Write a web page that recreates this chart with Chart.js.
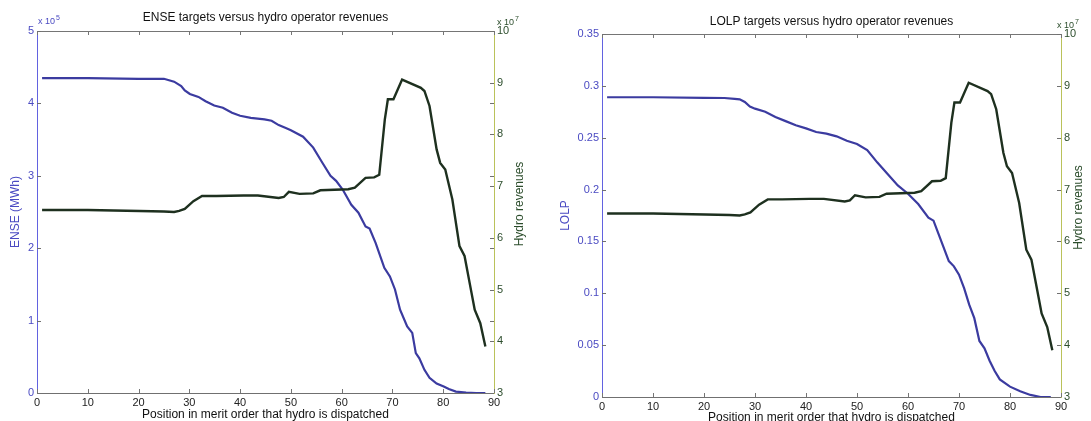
<!DOCTYPE html>
<html>
<head>
<meta charset="utf-8">
<script src="https://cdn.jsdelivr.net/npm/chart.js@4.4.1/dist/chart.umd.min.js"></script>
<style>
  body { margin: 0; background: #fff; width: 1091px; height: 421px; position: relative; overflow: hidden; }
  canvas { position: absolute; top: 0; }
</style>
</head>
<body>
<canvas id="enseChart" width="546" height="421" style="left:0px"></canvas>
<canvas id="lolpChart" width="545" height="421" style="left:546px"></canvas>
<script>
// ENSE (MWh) against position in merit order
const ensePos = [1, 10, 20, 25, 26, 27, 28.4, 29.1, 30.1, 31.8, 33.2, 34.9, 36.6, 38.4, 40, 42.1, 44.8, 46.2, 47.6, 49,
                 50, 52.4, 54.4, 56.2, 57.8, 58.9, 60.2, 61.9, 63.3, 64.7, 65.5, 66.7, 68.4, 69.5, 70.5, 71.5, 72.9, 73.9, 74.6, 75.3,
                 76.3, 77.3, 78.7, 80.1, 81.1, 82.5, 84.5, 86.5, 88.3];
const enseVals = [4.35e5, 4.35e5, 4.34e5, 4.34e5, 4.32e5, 4.30e5, 4.24e5, 4.18e5, 4.13e5, 4.09e5, 4.03e5, 3.97e5, 3.94e5, 3.87e5, 3.83e5, 3.80e5, 3.78e5, 3.76e5, 3.70e5, 3.66e5,
                  3.63e5, 3.54e5, 3.39e5, 3.18e5, 3.00e5, 2.93e5, 2.81e5, 2.60e5, 2.49e5, 2.30e5, 2.27e5, 2.07e5, 1.73e5, 1.61e5, 1.43e5, 1.15e5, 0.92e5, 0.83e5, 0.55e5, 0.48e5,
                  0.32e5, 0.21e5, 0.13e5, 0.09e5, 0.055e5, 0.02e5, 0.005e5, 0, 0];

// LOLP against position in merit order
const lolpPos = [1, 10, 20, 24, 26, 27, 28, 29, 30, 32, 34, 36, 38, 40, 42, 44, 46, 48, 50, 52,
                 54, 56, 58, 60, 62, 64, 65, 66, 68, 69, 70, 71, 72, 73, 74, 75, 76, 77, 78, 80,
                 82, 84, 86, 88];
const lolpVals = [0.289, 0.289, 0.2885, 0.2883, 0.2875, 0.287, 0.2845, 0.280, 0.278, 0.275, 0.270, 0.266, 0.262, 0.259, 0.2555, 0.254, 0.2513, 0.247, 0.244, 0.238,
                  0.226, 0.215, 0.204, 0.196, 0.186, 0.173, 0.170, 0.157, 0.131, 0.126, 0.118, 0.105, 0.089, 0.076, 0.054, 0.047, 0.035, 0.025, 0.017, 0.010,
                  0.0055, 0.002, 0, 0];

// hydro operator revenues, same for both targets
const revPos = [1, 10, 20.2, 25, 27, 28, 29.1, 30.8, 32.5, 35.3, 40.7, 43.5, 47.6, 48.6, 49.6, 51.7, 54.4, 55.8, 61.3, 62.6,
                64.7, 66.4, 67.4, 68.5, 69.1, 70.2, 71.9, 75.6, 76.3, 77.3, 78.7, 79.4, 80.4, 81.8, 83.2, 84.2, 85.2, 86.2, 87.3, 88.3];
const revVals = [6.54e7, 6.54e7, 6.52e7, 6.51e7, 6.50e7, 6.52e7, 6.56e7, 6.71e7, 6.81e7, 6.81e7, 6.82e7, 6.82e7, 6.77e7, 6.79e7, 6.89e7, 6.85e7, 6.86e7, 6.92e7, 6.94e7, 6.97e7,
                 7.16e7, 7.17e7, 7.22e7, 8.29e7, 8.68e7, 8.68e7, 9.06e7, 8.90e7, 8.84e7, 8.55e7, 7.71e7, 7.45e7, 7.32e7, 6.74e7, 5.84e7, 5.65e7, 5.13e7, 4.61e7, 4.35e7, 3.90e7];

const FONT = "'Liberation Sans', Arial, Helvetica, sans-serif";
const BLUE_LINE = '#3b3ba0';
const GREEN_LINE = '#1e301f';
const BLUE_AXIS = '#6262e0';
const GREEN_AXIS = '#bac25a';
const BLUE_TEXT = '#4a4ac2';
const GREEN_TEXT = '#2c4d2c';

Chart.defaults.font.family = FONT;

function pts(xs, ys) {
  return xs.map((x, i) => ({ x: x, y: ys[i] }));
}

// box edge, inward ticks, exponents, titles
const matlabFrame = {
  id: 'matlabFrame',
  afterDraw(chart, args, o) {
    const { ctx, chartArea: a, scales } = chart;
    const line = (x1, y1, x2, y2) => {
      ctx.beginPath(); ctx.moveTo(x1, y1); ctx.lineTo(x2, y2); ctx.stroke();
    };
    const tl = 4;
    ctx.save();
    ctx.lineWidth = 1;
    ctx.strokeStyle = '#757575';
    line(a.left, a.top + 0.5, a.right, a.top + 0.5);
    scales.x.ticks.forEach(t => {
      const px = Math.round(scales.x.getPixelForValue(t.value)) + 0.5;
      line(px, a.bottom, px, a.bottom - tl);
      line(px, a.top, px, a.top + tl);
    });
    ctx.strokeStyle = '#707070';
    scales.y.ticks.forEach(t => {
      const py = Math.round(scales.y.getPixelForValue(t.value)) + 0.5;
      line(a.left, py, a.left + tl, py);
      line(a.right, py, a.right - tl, py);
    });
    scales.y1.ticks.forEach(t => {
      const py = Math.round(scales.y1.getPixelForValue(t.value)) + 0.5;
      line(a.right, py, a.right - tl, py);
    });

    // chart title
    ctx.fillStyle = '#111';
    ctx.font = '12px ' + FONT;
    ctx.textAlign = 'center';
    ctx.textBaseline = 'middle';
    ctx.fillText(o.title, (a.left + a.right) / 2, o.titleY);

    // right axis title, reading upwards
    ctx.save();
    ctx.translate(o.rightTitleX, (a.top + a.bottom) / 2 - 8);
    ctx.rotate(-Math.PI / 2);
    ctx.fillStyle = GREEN_TEXT;
    ctx.fillText('Hydro revenues', 0, 0);
    ctx.restore();

    // exponent markers
    const expo = (x, y, power, color) => {
      ctx.fillStyle = color;
      ctx.textAlign = 'left';
      ctx.font = '9px ' + FONT;
      ctx.fillText('x 10', x, y);
      const w = ctx.measureText('x 10').width;
      ctx.font = '7px ' + FONT;
      ctx.fillText(power, x + w + 1, y - 4);
    };
    if (o.leftExp) expo(a.left + 1, a.top - 9, o.leftExp, BLUE_TEXT);
    expo(o.rightExpX, a.top - 8, '7', GREEN_TEXT);
    ctx.restore();
  }
};

function makeChart(id, cfg) {
  return new Chart(document.getElementById(id), {
    type: 'line',
    data: {
      datasets: [
        {
          data: pts(revPos, revVals),
          yAxisID: 'y1',
          borderColor: GREEN_LINE,
          borderWidth: 2.4,
          pointRadius: 0,
          tension: 0
        },
        {
          data: cfg.points,
          yAxisID: 'y',
          borderColor: BLUE_LINE,
          borderWidth: 2.2,
          pointRadius: 0,
          tension: 0
        }
      ]
    },
    options: {
      responsive: false,
      animation: false,
      events: [],
      layout: { padding: { top: cfg.top, left: 0, right: 0, bottom: 0 } },
      plugins: {
        legend: { display: false },
        tooltip: { enabled: false },
        matlabFrame: {
          title: cfg.title,
          titleY: cfg.titleY,
          rightTitleX: cfg.rightTitleX,
          rightExpX: cfg.rightExpX,
          leftExp: cfg.leftExp
        }
      },
      scales: {
        x: {
          type: 'linear',
          min: 0,
          max: 90,
          ticks: { stepSize: 10, color: '#222', font: { size: 11 }, padding: 3, maxRotation: 0 },
          grid: { display: false, drawTicks: false },
          border: { color: '#707070', width: 1 },
          title: {
            display: true,
            text: 'Position in merit order that hydro is dispatched',
            color: '#111',
            font: { size: 12 },
            padding: { top: 0, bottom: cfg.xTitlePad }
          },
          afterFit: s => { s.height = cfg.xHeight; }
        },
        y: {
          position: 'left',
          min: 0,
          max: cfg.yMax,
          ticks: { stepSize: cfg.yStep, color: BLUE_TEXT, font: { size: 11 }, padding: 3, callback: cfg.yFormat },
          grid: { display: false, drawTicks: false },
          border: { color: BLUE_AXIS, width: 1 },
          title: {
            display: true,
            text: cfg.yTitle,
            color: BLUE_TEXT,
            font: { size: 12 },
            padding: { top: cfg.yTitlePad, bottom: 0 }
          },
          afterFit: s => { s.width = cfg.yWidth; }
        },
        y1: {
          position: 'right',
          min: 3e7,
          max: 1e8,
          ticks: { stepSize: 1e7, color: GREEN_TEXT, font: { size: 11 }, padding: 3, callback: v => v / 1e7 },
          grid: { display: false, drawTicks: false },
          border: { color: GREEN_AXIS, width: 1 },
          afterFit: s => { s.width = cfg.y1Width; }
        }
      }
    },
    plugins: [matlabFrame]
  });
}

makeChart('enseChart', {
  points: pts(ensePos, enseVals),
  title: 'ENSE targets versus hydro operator revenues',
  titleY: 18,
  top: 31,
  xHeight: 28,
  xTitlePad: -1,
  yWidth: 37,
  y1Width: 52,
  yMax: 5e5,
  yStep: 1e5,
  yFormat: v => v / 1e5,
  yTitle: 'ENSE (MWh)',
  yTitlePad: 8,
  rightTitleX: 520,
  rightExpX: 497,
  leftExp: '5'
});

makeChart('lolpChart', {
  points: pts(lolpPos, lolpVals),
  title: 'LOLP targets versus hydro operator revenues',
  titleY: 22,
  top: 34,
  xHeight: 24,
  xTitlePad: -4,
  yWidth: 56,
  y1Width: 30,
  yMax: 0.35,
  yStep: 0.05,
  yFormat: v => Math.round(v * 100) / 100,
  yTitle: 'LOLP',
  yTitlePad: 12,
  rightTitleX: 533,
  rightExpX: 511,
  leftExp: null
});
</script>
</body>
</html>
